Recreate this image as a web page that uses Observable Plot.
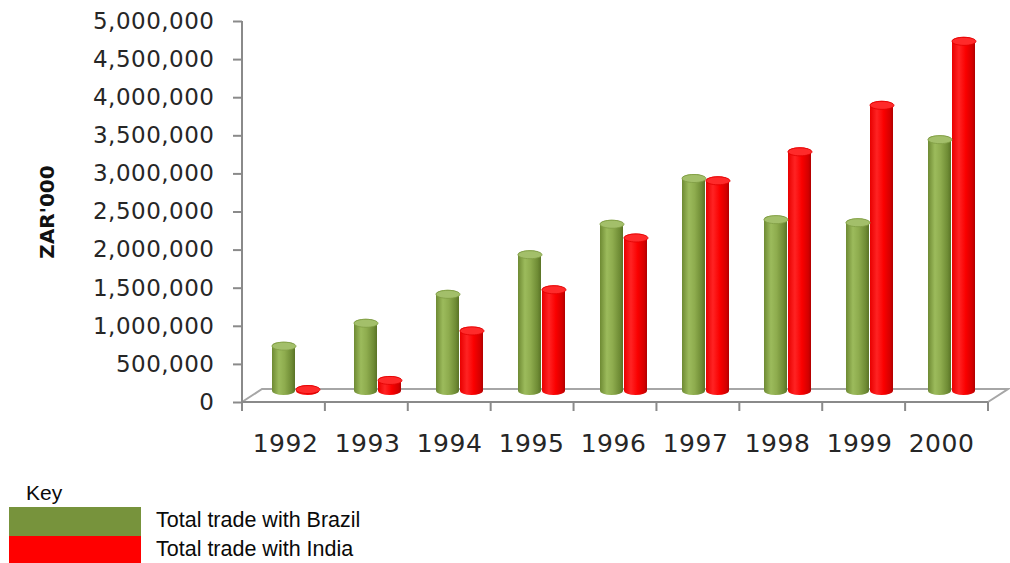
<!DOCTYPE html>
<html>
<head>
<meta charset="utf-8">
<script src="https://cdn.jsdelivr.net/npm/d3@7"></script>
<script src="https://cdn.jsdelivr.net/npm/@observablehq/plot@0.6"></script>
<style>
  html, body { margin: 0; padding: 0; background: #fff; }
  body { width: 1010px; height: 563px; overflow: hidden; position: relative; font-family: "Liberation Sans", Arial, sans-serif; }
  #chart svg { display: block; }
  .lg { position: absolute; white-space: nowrap; color: #0a0a0a; }
</style>
</head>
<body>
<div id="chart"></div>
<div id="legend"></div>
<script>
// ---- data ----
const years = ["1992", "1993", "1994", "1995", "1996", "1997", "1998", "1999", "2000"];
const brazil = [700000, 1000000, 1380000, 1900000, 2300000, 2900000, 2360000, 2320000, 3410000];
const india  = [130000, 250000, 900000, 1440000, 2120000, 2870000, 3250000, 3860000, 4700000];
const yTicks = [0, 500000, 1000000, 1500000, 2000000, 2500000, 3000000, 3500000, 4000000, 4500000, 5000000];
const yTitle = "ZAR'000";
const keyTitle = "Key";
const seriesNames = ["Total trade with Brazil", "Total trade with India"];
const seriesColors = ["#77933c", "#ff0000"];

// ---- layout ----
const W = 1010, H = 470;
const mL = 242, mR = 22, mT = 21, mB = 68;
const axisGrey = "#8a8a8a";

const data = years.map((year, i) => ({year, brazil: brazil[i], india: india[i]}));

// elliptical cylinder cap
const capSymbol = {
  draw(ctx) {
    const rx = 12, ry = 4, k = 0.5523;
    ctx.moveTo(rx, 0);
    ctx.bezierCurveTo(rx, ry * k, rx * k, ry, 0, ry);
    ctx.bezierCurveTo(-rx * k, ry, -rx, ry * k, -rx, 0);
    ctx.bezierCurveTo(-rx, -ry * k, -rx * k, -ry, 0, -ry);
    ctx.bezierCurveTo(rx * k, -ry, rx, -ry * k, rx, 0);
    ctx.closePath();
  }
};

function decor(index, scales, values, dims) {
  const x0 = mL, x1 = W - mR, y0 = H - mB, yTop = mT;
  const ddx = 20, ddy = -13;
  const g = d3.create("svg:g").attr("fill", "none").attr("stroke-width", 2);
  const defs = g.append("defs");
  const mk = (id, stops) => {
    const lg = defs.append("linearGradient").attr("id", id)
      .attr("x1", 0).attr("x2", 1).attr("y1", 0).attr("y2", 0);
    stops.forEach(([o, c]) => lg.append("stop").attr("offset", o).attr("stop-color", c));
  };
  mk("gBrazil", [[0, "#6e8a33"], [0.3, "#9cbb5c"], [0.55, "#8eac4e"], [0.85, "#6f8c35"], [1, "#5a7326"]]);
  mk("gIndia", [[0, "#e80000"], [0.3, "#ff2323"], [0.6, "#fa0000"], [0.88, "#d40000"], [1, "#b00000"]]);
  // 3D floor
  g.append("path")
    .attr("stroke", "#a6a6a6")
    .attr("d", `M${x0},${y0}L${x0 + ddx},${y0 + ddy}L${x1 + ddx},${y0 + ddy}L${x1},${y0}`);
  // axes
  g.append("path").attr("stroke", axisGrey).attr("d", `M${x0},${yTop}V${y0}H${x1}`);
  const bw = (x1 - x0) / years.length;
  for (let i = 0; i <= years.length; i++) {
    g.append("path").attr("stroke", axisGrey).attr("d", `M${x0 + i * bw},${y0}v9`);
  }
  return g.node();
}

const lift = -7;
const chart = Plot.plot({
  width: W, height: H,
  marginLeft: mL, marginRight: mR, marginTop: mT, marginBottom: mB,
  style: {fontFamily: "'DejaVu Sans', Verdana, sans-serif", fontSize: "23px", color: "#262626", background: "#fff", overflow: "visible"},
  x: {domain: years, padding: 0, tickSize: 0, tickPadding: 32, label: null},
  y: {domain: [0, 5000000], ticks: yTicks, tickFormat: d3.format(","), tickSize: 9, tickPadding: 19, label: null},
  marks: [
    decor,
    Plot.barY(data, {x: "year", y: "brazil", fill: "url(#gBrazil)", insetLeft: 26, insetRight: 33, dy: lift, rx: 12, ry: 4}),
    Plot.barY(data, {x: "year", y: "india", fill: "url(#gIndia)", insetLeft: 50, insetRight: 9, dy: lift, rx: 12, ry: 4}),
    Plot.dot(data, {x: "year", y: "brazil", symbol: capSymbol, r: 5, fill: "#a3bf6a", stroke: "#7f9c42", strokeWidth: 0.8, dx: -3.5, dy: lift + 4}),
    Plot.dot(data, {x: "year", y: "india", symbol: capSymbol, r: 5, fill: "#ff2a2a", stroke: "#e00000", strokeWidth: 0.8, dx: 20.5, dy: lift + 4})
  ]
});

document.getElementById("chart").appendChild(chart);
const svg = d3.select(chart);
// restyle axes
svg.selectAll('[aria-label^="y-axis"] line, [aria-label^="y-axis"] path').attr("stroke", axisGrey).attr("stroke-width", 2);
svg.selectAll('[aria-label^="x-axis"] text').attr("font-size", "25px").style("letter-spacing", "0.5px").attr("dx", -2);
svg.selectAll('[aria-label^="y-axis"] text').attr("font-size", "23px").style("letter-spacing", "0.5px");
// y title
svg.append("text")
  .attr("transform", `translate(48,212) rotate(-90)`)
  .attr("text-anchor", "middle")
  .attr("dominant-baseline", "middle")
  .attr("font-family", "'DejaVu Sans', Verdana, sans-serif")
  .attr("font-weight", "bold")
  .attr("font-size", 20)
  .attr("fill", "#111")
  .text(yTitle);

// ---- legend (below the SVG) ----
const lg = d3.select("#legend");
lg.append("div").attr("class", "lg")
  .style("left", "26px").style("top", "481px").style("font-size", "21px").text(keyTitle);
const swTops = [507, 536], swH = [29, 27];
seriesNames.forEach((name, i) => {
  lg.append("div").attr("class", "lg")
    .style("left", "9px").style("top", swTops[i] + "px")
    .style("width", "132px").style("height", swH[i] + "px")
    .style("background", seriesColors[i]);
  lg.append("div").attr("class", "lg")
    .style("left", "156px").style("top", (swTops[i] + 1) + "px")
    .style("font-size", "21.5px").text(name);
});
</script>
</body>
</html>
